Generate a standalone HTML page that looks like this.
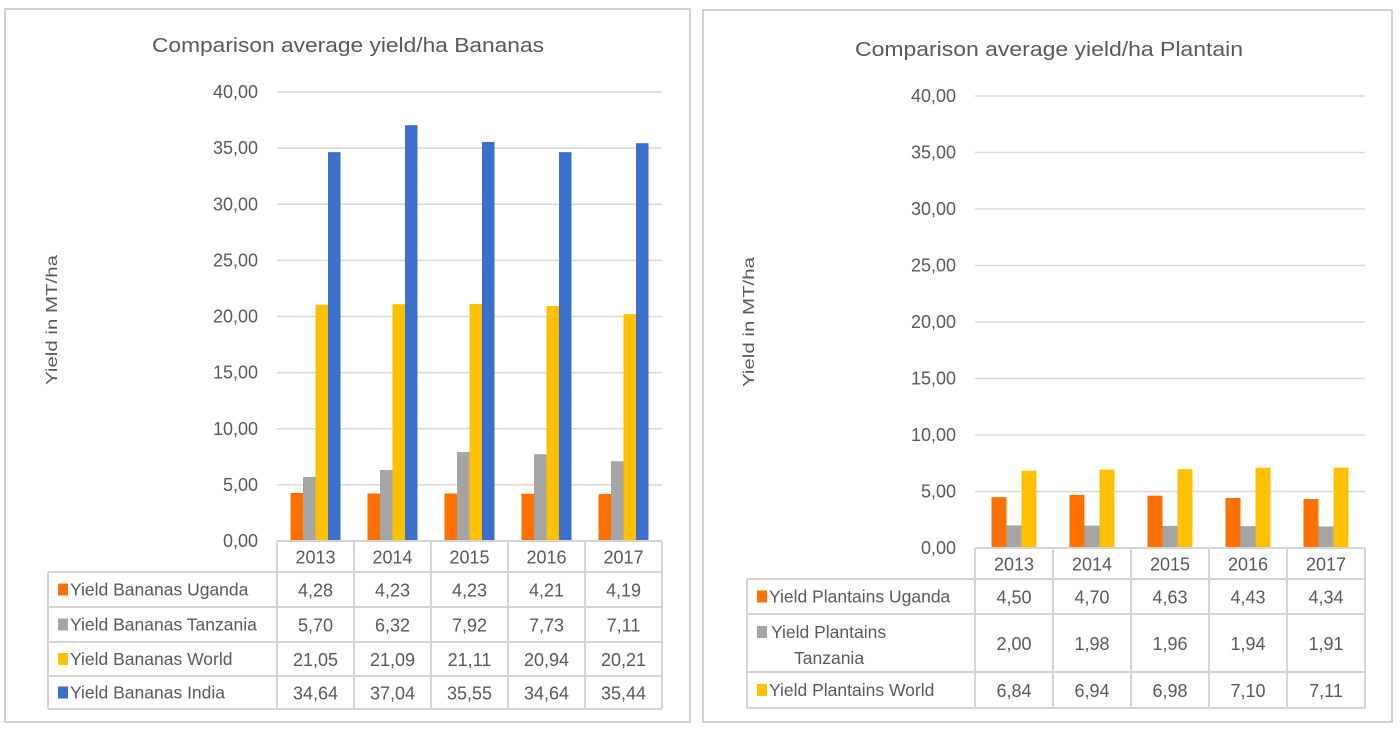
<!DOCTYPE html>
<html><head><meta charset="utf-8">
<style>
html,body{margin:0;padding:0;background:#fff;}
svg{display:block;font-family:"Liberation Sans",sans-serif;}
</style></head>
<body>
<svg id="svg" width="1400" height="730" xmlns="http://www.w3.org/2000/svg"></svg>
<script>
const years = ["2013","2014","2015","2016","2017"];
const yTicks = [0,5,10,15,20,25,30,35,40];
const bananaUganda = [4.28,4.23,4.23,4.21,4.19];
const bananaTanzania = [5.70,6.32,7.92,7.73,7.11];
const bananaWorld = [21.05,21.09,21.11,20.94,20.21];
const bananaIndia = [34.64,37.04,35.55,34.64,35.44];
const bananaNames = ["Yield Bananas Uganda","Yield Bananas Tanzania","Yield Bananas World","Yield Bananas India"];
const plantainUganda = [4.50,4.70,4.63,4.43,4.34];
const plantainTanzania = [2.00,1.98,1.96,1.94,1.91];
const plantainWorld = [6.84,6.94,6.98,7.10,7.11];
const plantainNames = ["Yield Plantains  Uganda","Yield Plantains|Tanzania","Yield Plantains  World"];

const COLORS = ["#FF7000","#A5A5A5","#FFC000","#3A6FCB"];
const svg = document.getElementById('svg');
const NS = "http://www.w3.org/2000/svg";
function mk(tag, attrs, parent){const e=document.createElementNS(NS,tag);for(const k in attrs)e.setAttribute(k,attrs[k]);(parent||svg).appendChild(e);return e;}
function fmt(v){return v.toFixed(2).replace('.',',');}

function drawChart(cfg){
  const g = mk('g',{});
  
  
  const fr = mk('rect',{x:cfg.fx,y:cfg.fy,width:cfg.fw,height:cfg.fh,fill:'#fff',stroke:'#d0d0d0','stroke-width':2},g);
  
  
  const t = mk('text',{x:cfg.titleX,y:cfg.titleY,'font-size':20,fill:'#595959',textLength:cfg.titleW,lengthAdjust:'spacingAndGlyphs'},g);
  t.textContent = cfg.title;
  
  
  const yl = mk('text',{x:0,y:0,'font-size':16,fill:'#595959','text-anchor':'middle',textLength:130,lengthAdjust:'spacingAndGlyphs',transform:`translate(${cfg.ylabX},${cfg.ylabY}) rotate(-90)`},g);
  yl.textContent = 'Yield in MT/ha';
  
  
  const x0=cfg.px0, x1=cfg.px1, ytop=cfg.ytop, ybot=cfg.ybot;
  const yS = v => ybot - (v/40)*(ybot-ytop);
  yTicks.forEach(v=>{
    if(v>0){const l=mk('line',{x1:x0,x2:x1,y1:yS(v),y2:yS(v),stroke:'#d9d9d9','stroke-width':1.5},g);
      
      }
    const tl=mk('text',{x:x0-19,y:yS(v)+6,'font-size':18,fill:'#595959','text-anchor':'end'},g);
    tl.textContent=fmt(v);
    
    
  });
  const n=years.length, cw=(x1-x0)/n;
  const series=cfg.series, ns=series.length;
  series.forEach((vals,si)=>{
    vals.forEach((v,i)=>{
      const cx=x0+cw*(i+0.5);
      const bx=cx-ns*cfg.bw/2+si*cfg.bw;
      const r=mk('rect',{x:bx,y:yS(v),width:cfg.bw,height:ybot-yS(v),fill:COLORS[si]},g);
      
      
    });
  });
  const rows=cfg.rows, tl=cfg.tl;
  const tc='#d4d4d4';
  mk('line',{x1:x0,x2:x1,y1:rows[0],y2:rows[0],stroke:tc,'stroke-width':2},g);
  for(let r=1;r<rows.length;r++) mk('line',{x1:tl,x2:x1,y1:rows[r],y2:rows[r],stroke:tc,'stroke-width':2},g);
  mk('line',{x1:tl,x2:tl,y1:rows[1],y2:rows[rows.length-1],stroke:tc,'stroke-width':2},g);
  for(let i=0;i<=n;i++) mk('line',{x1:x0+cw*i,x2:x0+cw*i,y1:rows[0],y2:rows[rows.length-1],stroke:tc,'stroke-width':2},g);
  years.forEach((yr,i)=>{
    const e=mk('text',{x:x0+cw*(i+0.5),y:(rows[0]+rows[1])/2+7,'font-size':18,fill:'#595959','text-anchor':'middle'},g);
    e.textContent=yr;
    
    
  });
  series.forEach((vals,si)=>{
    const ya=rows[si+1], yb=rows[si+2], ym=(ya+yb)/2;
    const parts=cfg.names[si].split('|');
    const sw=mk('rect',{x:tl+10,y:(parts.length>1?ya+12:ym-6),width:10,height:12,fill:COLORS[si]},g);
    
    
    if(parts.length>1){
      const a=mk('text',{x:tl+24,y:ya+24,'font-size':17.5,fill:'#595959','xml:space':'preserve'},g);a.textContent=parts[0];
      
      const b=mk('text',{x:tl+47,y:ya+50,'font-size':17.5,fill:'#595959'},g);b.textContent=parts[1];
      
    } else {
      const a=mk('text',{x:tl+22,y:ym+6,'font-size':17.5,fill:'#595959','xml:space':'preserve'},g);a.textContent=parts[0];
      
    }
    vals.forEach((v,i)=>{
      const e=mk('text',{x:x0+cw*(i+0.5),y:ym+7,'font-size':18,fill:'#595959','text-anchor':'middle'},g);
      e.textContent=fmt(v);
      
      
    });
  });
}

drawChart({name:'bananas-chart',fx:5,fy:9,fw:685,fh:713,title:'Comparison average yield/ha Bananas',titleX:152,titleY:52,titleW:392,
  ylabX:57,ylabY:320,px0:277,px1:662,ytop:92,ybot:541,bw:12.5,
  series:[bananaUganda,bananaTanzania,bananaWorld,bananaIndia],names:bananaNames,
  rows:[541,572,607,642,676,709],tl:48});
drawChart({name:'plantain-chart',fx:703,fy:10,fw:689,fh:712,title:'Comparison average yield/ha Plantain',titleX:855,titleY:56,titleW:388,
  ylabX:754,ylabY:322,px0:975,px1:1365,ytop:96,ybot:548,bw:15,
  series:[plantainUganda,plantainTanzania,plantainWorld],names:plantainNames,
  rows:[548,579,614,672,708],tl:747});
</script>
</body></html>
